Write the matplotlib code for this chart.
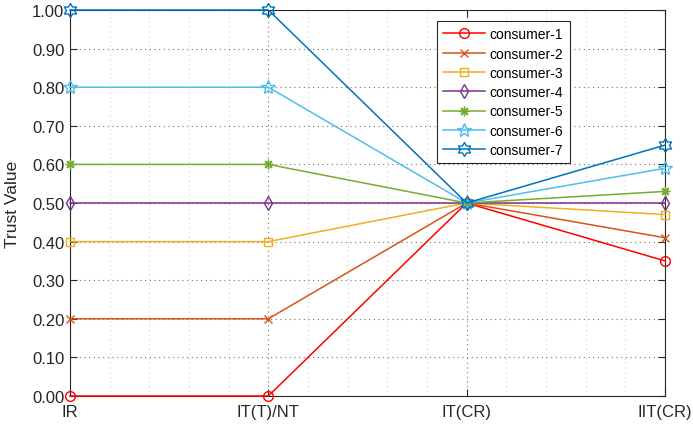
import numpy as np
import matplotlib
matplotlib.use("Agg")
import matplotlib.pyplot as plt
from matplotlib.path import Path
from matplotlib.ticker import MultipleLocator, FormatStrFormatter

plt.rcParams["font.family"] = ["Liberation Sans", "DejaVu Sans"]

stages = ["IR", "IT(T)/NT", "IT(CR)", "IIT(CR)"]
consumers = ["consumer-1", "consumer-2", "consumer-3", "consumer-4",
             "consumer-5", "consumer-6", "consumer-7"]
c1 = [0.00, 0.00, 0.50, 0.35]
c2 = [0.20, 0.20, 0.50, 0.41]
c3 = [0.40, 0.40, 0.50, 0.47]
c4 = [0.50, 0.50, 0.50, 0.50]
c5 = [0.60, 0.60, 0.50, 0.53]
c6 = [0.80, 0.80, 0.50, 0.59]
c7 = [1.00, 1.00, 0.50, 0.65]
series = [c1, c2, c3, c4, c5, c6, c7]


def hexagram():
    # six-pointed star outline
    ang = np.deg2rad(90 + 30 * np.arange(12))
    r = np.where(np.arange(12) % 2 == 0, 1.0, 1 / np.sqrt(3))
    verts = np.column_stack([r * np.cos(ang), r * np.sin(ang)])
    verts = np.vstack([verts, verts[:1]])
    codes = [Path.MOVETO] + [Path.LINETO] * 11 + [Path.CLOSEPOLY]
    return Path(verts, codes)


colors = [(1, 0, 0), (0.850, 0.325, 0.098), (0.929, 0.694, 0.125),
          (0.494, 0.184, 0.556), (0.466, 0.674, 0.188),
          (0.301, 0.745, 0.933), (0.0, 0.447, 0.741)]
markers = ["o", "x", "s", "d", (8, 2, 0), "*", hexagram()]
sizes = [7, 5.5, 6, 7.5, 7, 10, 10]

fig = plt.figure(figsize=(6.93, 4.27), dpi=100)
ax = fig.add_axes([70 / 693, 1 - 397 / 427, 595 / 693, 386 / 427])

x = np.arange(len(stages))
for vals, name, col, mk, ms in zip(series, consumers, colors, markers, sizes):
    ax.plot(x, vals, color=col, lw=1.1, marker=mk, ms=ms,
            mfc="none", mec=col, mew=1.0, label=name, clip_on=False, zorder=3)

ax.set_xlim(0, 3)
ax.set_ylim(0, 1)
ax.set_xticks(x)
ax.set_xticklabels(stages)
ax.xaxis.set_minor_locator(MultipleLocator(0.2))
ax.yaxis.set_major_locator(MultipleLocator(0.1))
ax.yaxis.set_major_formatter(FormatStrFormatter("%.2f"))

ax.grid(True, which="major", linestyle=(0, (0.9, 3.3)), color="#666666", lw=0.8)
ax.grid(True, which="minor", axis="x", linestyle=(0, (0.9, 3.3)),
        color="#cccccc", lw=0.8)
ax.tick_params(which="major", direction="in", length=5, width=0.8,
               top=True, right=True, labelsize=12, colors="#262626")
ax.tick_params(axis="x", which="major", pad=6)
ax.tick_params(axis="y", which="major", pad=4)
ax.tick_params(which="minor", length=0)
for s in ax.spines.values():
    s.set_color("#262626")
    s.set_linewidth(0.8)

ax.set_ylabel("Trust Value", fontsize=12.5, color="#262626", labelpad=8.5)

leg = ax.legend(loc="upper left", bbox_to_anchor=(437 / 693, 1 - 22 / 427),
                bbox_transform=fig.transFigure, borderaxespad=0,
                fontsize=10, fancybox=False, edgecolor="#262626",
                framealpha=1, handlelength=3.0, borderpad=0.45,
                labelspacing=0.38, handletextpad=0.35)
leg.get_frame().set_linewidth(0.8)

fig.savefig("out.png", dpi=100)
